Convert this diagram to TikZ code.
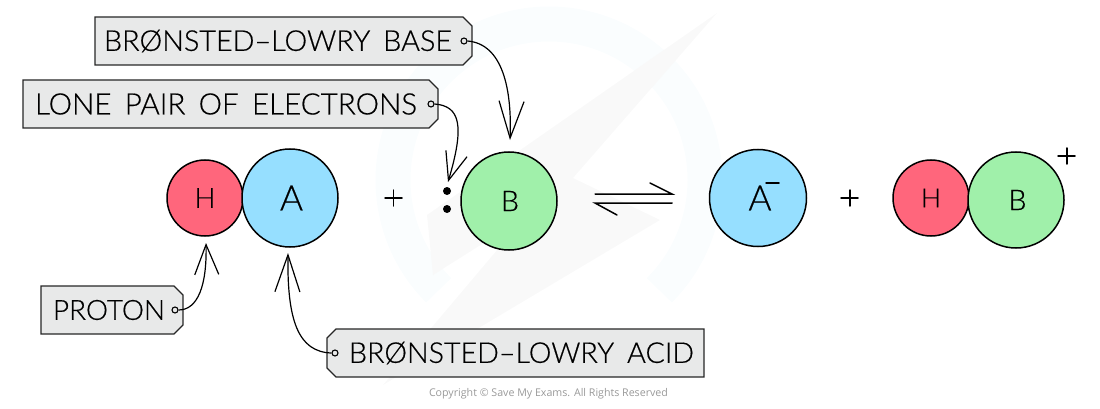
\documentclass[tikz,border=0pt]{standalone}
\usepackage{fontspec}
\setmainfont{Lato}[UprightFont=* Light,FakeBold=0.5]
\newfontfamily\copyfont{Open Sans}
\usetikzlibrary{arrows.meta,shapes.misc,shapes.geometric}
\definecolor{tagfill}{HTML}{E8E9E9}
\definecolor{hred}{HTML}{FF667C}
\definecolor{ablue}{HTML}{96DFFF}
\definecolor{bgreen}{HTML}{A0F0AA}
\definecolor{wmblue}{HTML}{FAFDFE}
\definecolor{wmgrey}{HTML}{F9F9F9}
\newcommand{\ws}{\hspace{0.45em}}
\newcommand{\lab}[2]{\resizebox{#1pt}{!}{\fontsize{26}{26}\selectfont #2}}
\tikzset{
  x=1pt,y=-1pt,
  blob/.style={ellipse,draw=black,line width=1.5pt,inner sep=0pt},
  tag/.style={chamfered rectangle,chamfered rectangle xsep=4.5pt,chamfered rectangle ysep=4.5pt,draw=black!85,fill=tagfill,line width=1.4pt,inner sep=0pt,align=left},
  hole/.style={circle,draw=black,fill=tagfill,line width=1.1pt,minimum size=6pt,inner sep=0pt},
  conn/.style={line width=1.2pt,draw=black},
  dotn/.style={circle,fill=black,minimum size=8pt,inner sep=0pt},
  sign/.style={line width=1.5pt,line cap=round}
}
\begin{document}
\begin{tikzpicture}
\useasboundingbox (0,0) rectangle (1100,409);
% watermark
\draw[wmblue,line width=35pt] (549,180) ++(135:156) arc[start angle=135,delta angle=270,radius=156];
\fill[wmgrey] (717,13) -- (427,215) -- (433,275) -- (525,217) -- (383,385) -- (660,220) -- (573,178) -- cycle;
% circles
\node[blob,fill=hred,minimum width=76pt,minimum height=76pt] (h1) at (205,198) {\lab{21}{H}};
\node[blob,fill=ablue,minimum width=96pt,minimum height=98pt] (a1) at (290,198) {\hspace*{3pt}\lab{23}{A}};
\node[blob,fill=bgreen,minimum width=96pt,minimum height=98pt] (b1) at (509,201) {\hspace*{2pt}\lab{18}{B}};
\node[blob,fill=ablue,minimum width=97pt,minimum height=97pt] (a2) at (758,198) {\hspace*{4pt}\lab{23}{A}};
\node[blob,fill=hred,minimum width=76pt,minimum height=76pt] (h2) at (931,198) {\lab{20}{H}};
\node[blob,fill=bgreen,minimum width=96pt,minimum height=96pt] (b2) at (1016,200) {\hspace*{3pt}\lab{18}{B}};
% signs
\draw[sign] (385,198) -- (402,198) (393.5,190) -- (393.5,206);
\draw[sign] (841,198) -- (858,198) (850,190) -- (850,206);
\draw[sign] (1058,156) -- (1075,156) (1067,148) -- (1067,164);
\draw[sign] (766,183) -- (779,183);
\draw[line width=1.5pt,line cap=round] (595,194) -- (672,194) -- (650,183);
\draw[line width=1.5pt,line cap=round] (672,203) -- (595,203) -- (617,215);
% lone pair dots
\node[dotn] (d1) at (447,191) {};
\node[dotn] (d2) at (447,209) {};
% tags
\node[tag,chamfered rectangle corners={north east,south east},minimum height=48pt,text width=368pt] (base) at (283.5,41) {\hspace*{4.5pt}\lab{348}{BRØNSTED–LOWRY\ws BASE}};
\node[tag,chamfered rectangle corners={north east,south east},minimum height=48pt,text width=406pt] (lone) at (230.5,104) {\hspace*{7.5pt}\lab{382}{LONE\ws PAIR\ws OF\ws ELECTRONS}};
\node[tag,chamfered rectangle corners={north east,south east},minimum height=48pt,text width=133pt] (prot) at (112,310) {\hspace*{7.5pt}\lab{112}{PROTON}};
\node[tag,chamfered rectangle corners={north west,south west},minimum height=48pt,text width=368pt] (acid) at (515.5,353) {\hspace*{17.5pt}\lab{345}{BRØNSTED–LOWRY\ws ACID}};
% connector ends
\node[hole] (hb) at (464,41) {};
\node[hole] (hl) at (431,104) {};
\node[hole] (hp) at (175,310) {};
\node[hole] (ha) at (335,353) {};
\coordinate (tb) at (510,140);
\coordinate (tl) at (448,182);
\coordinate (tp) at (206,243);
\coordinate (ta) at (288,253);
\draw[conn,-{Straight Barb[length=37pt,width=25pt]}] (hb.east) .. controls (503,44) and (512,90) .. (tb);
\draw[conn,-{Straight Barb[length=28pt,width=22pt]}] (hl.east) .. controls (460,106) and (465,125) .. (tl);
\draw[conn,-{Straight Barb[length=30pt,width=24pt]}] (hp.east) .. controls (198,310) and (207,285) .. (tp);
\draw[conn,-{Straight Barb[length=37pt,width=25pt]}] (ha.west) .. controls (298,352) and (287,320) .. (ta);
% copyright
\node[inner sep=0pt,text=black!40] (copy) at (548.5,394) {\resizebox{239pt}{!}{\copyfont\fontsize{12}{12}\selectfont Copyright © Save My Exams. All Rights Reserved}};
\end{tikzpicture}
\end{document}
